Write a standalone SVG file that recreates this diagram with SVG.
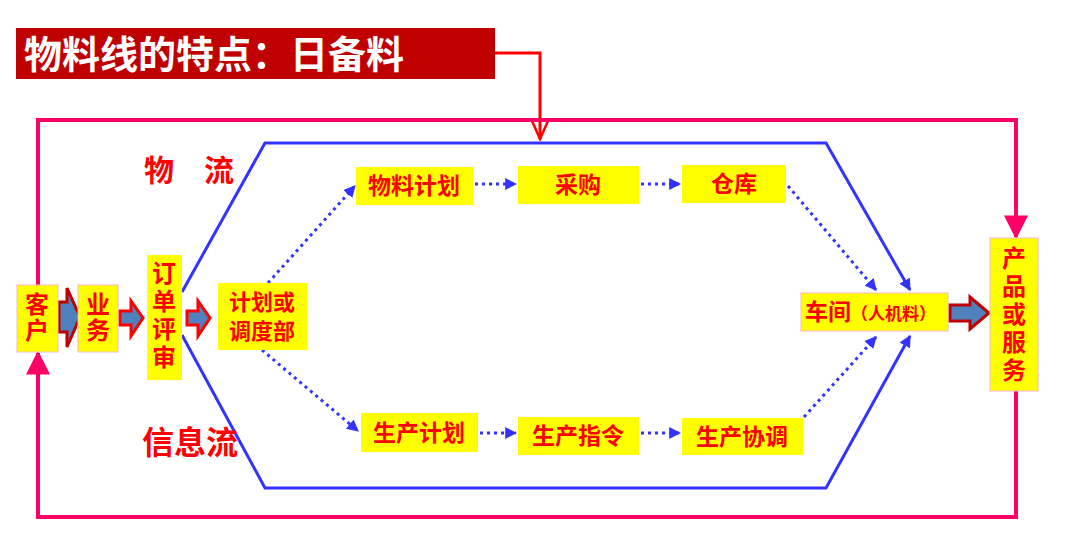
<svg xmlns="http://www.w3.org/2000/svg" width="1080" height="539" viewBox="0 0 1080 539">
<defs>
<style>
.t{font-family:"Noto Sans CJK SC","Liberation Sans",sans-serif;font-weight:bold;fill:#FF0000;text-anchor:middle}
.v{writing-mode:vertical-rl;text-orientation:upright}
.box{fill:#FFFF00}
.boxb{fill:#FFFF00;stroke:#F4B8C8;stroke-width:1}
.frame{fill:none;stroke:#FF0066;stroke-width:4}
.hex{fill:none;stroke:#3333FF;stroke-width:3}
.dot{fill:none;stroke:#3333FF;stroke-width:3;stroke-dasharray:3 4}
.ba{fill:#4F81BD;stroke-width:3;stroke-linejoin:miter}
</style>
<marker id="ah" viewBox="0 0 10 10" refX="9" refY="5" markerWidth="4" markerHeight="4" orient="auto" markerUnits="strokeWidth">
<path d="M0 0 L10 5 L0 10 z" fill="#3333FF"/>
</marker>
<marker id="ahr" viewBox="0 0 10 10" refX="9" refY="5" markerWidth="6" markerHeight="6" orient="auto" markerUnits="strokeWidth">
<path d="M0 0 L10 5 L0 10 z" fill="#FF0066"/>
</marker>
<marker id="ahred" viewBox="0 0 10 10" refX="9" refY="5" markerWidth="7" markerHeight="7" orient="auto" markerUnits="strokeWidth">
<path d="M0 1 L9 5 L0 9" fill="none" stroke="#FF0000" stroke-width="1.2"/>
</marker>
</defs>
<rect width="1080" height="539" fill="#FFFFFF"/>

<g id="title">
<rect x="16" y="28" width="479" height="51" fill="#C00000"/>
<text x="24" y="68" style="font-family:'Noto Sans CJK SC','Liberation Sans',sans-serif;font-weight:bold;font-size:38px;fill:#FFFFFF">物料线的特点：日备料</text>
</g>

<g id="connectors">
<polyline points="495,53 540,53 540,139" fill="none" stroke="#FF0000" stroke-width="3" marker-end="url(#ahred)"/>
<polyline class="frame" points="38,285 38,120 1016,120 1016,237" marker-end="url(#ahr)"/>
<polyline class="frame" points="1016,391 1016,517 38,517 38,353" marker-end="url(#ahr)"/>
<polyline class="hex" points="182,292 265,143 826,143 910,290" marker-end="url(#ah)"/>
<polyline class="hex" points="182,335 265,488 826,488 910,336" marker-end="url(#ah)"/>
<line class="dot" x1="268" y1="283" x2="355" y2="186" marker-end="url(#ah)"/>
<line class="dot" x1="262" y1="350" x2="358" y2="431" marker-end="url(#ah)"/>
<line class="dot" x1="475" y1="184" x2="516" y2="184" marker-end="url(#ah)"/>
<line class="dot" x1="641" y1="184" x2="680" y2="184" marker-end="url(#ah)"/>
<line class="dot" x1="788" y1="186" x2="876" y2="290" marker-end="url(#ah)"/>
<line class="dot" x1="480" y1="433" x2="516" y2="433" marker-end="url(#ah)"/>
<line class="dot" x1="641" y1="433" x2="680" y2="433" marker-end="url(#ah)"/>
<line class="dot" x1="804" y1="417" x2="876" y2="337" marker-end="url(#ah)"/>
<path class="ba" stroke="#C00000" d="M59 302 H67 V288 L80 317 L67 347 V332 H59 Z"/>
<path class="ba" stroke="#FF0000" d="M120 311 H131 V301 L143 318 L131 336 V325 H120 Z"/>
<path class="ba" stroke="#FF0000" d="M187 311 H198 V301 L210 318 L198 336 V325 H187 Z"/>
<path class="ba" stroke="#C00000" d="M950 305 H970 V297 L989 313 L970 329 V321 H950 Z"/>
</g>

<g id="label-wuliu"><text class="t" x="189" y="181" style="font-size:30px">物　流</text></g>
<g id="label-xinxiliu"><text class="t" x="190" y="454" style="font-size:32px">信息流</text></g>

<g id="kehu">
<rect class="boxb" x="17" y="285" width="41" height="67"/>
<text class="t v" x="37" y="318" style="font-size:24px;letter-spacing:2px">客户</text>
</g>
<g id="yewu">
<rect class="boxb" x="78" y="285" width="40" height="67"/>
<text class="t v" x="98" y="318" style="font-size:24px;letter-spacing:2px">业务</text>
</g>
<g id="dingdan">
<rect class="box" x="147" y="255" width="35" height="125"/>
<text class="t v" x="164" y="317" style="font-size:24px;letter-spacing:4px">订单评审</text>
</g>
<g id="jihuabu">
<rect class="box" x="218" y="283" width="89" height="67"/>
<text class="t" x="262" y="310" style="font-size:22px">计划或</text>
<text class="t" x="262" y="339" style="font-size:22px">调度部</text>
</g>
<g id="wuliaojihua">
<rect class="box" x="356" y="167" width="117" height="38"/>
<text class="t" x="414" y="194" style="font-size:23px">物料计划</text>
</g>
<g id="caigou">
<rect class="box" x="518" y="166" width="121" height="38"/>
<text class="t" x="578" y="193" style="font-size:23px">采购</text>
</g>
<g id="cangku">
<rect class="box" x="682" y="165" width="104" height="38"/>
<text class="t" x="734" y="192" style="font-size:23px">仓库</text>
</g>
<g id="shengchanjihua">
<rect class="box" x="361" y="413" width="117" height="39"/>
<text class="t" x="419" y="441" style="font-size:23px">生产计划</text>
</g>
<g id="shengchanzhiling">
<rect class="box" x="518" y="417" width="121" height="38"/>
<text class="t" x="578" y="444" style="font-size:23px">生产指令</text>
</g>
<g id="shengchanxietiao">
<rect class="box" x="682" y="418" width="121" height="37"/>
<text class="t" x="742" y="445" style="font-size:23px">生产协调</text>
</g>
<g id="chejian">
<rect class="boxb" x="801" y="293" width="147" height="38"/>
<text class="t" x="805" y="320" style="font-size:23px;text-anchor:start">车间<tspan style="font-size:17px">（人机料）</tspan></text>
</g>
<g id="chanpin">
<rect class="boxb" x="990" y="238" width="48" height="153"/>
<text class="t v" x="1014" y="316" style="font-size:24px;letter-spacing:4px">产品或服务</text>
</g>
</svg>
